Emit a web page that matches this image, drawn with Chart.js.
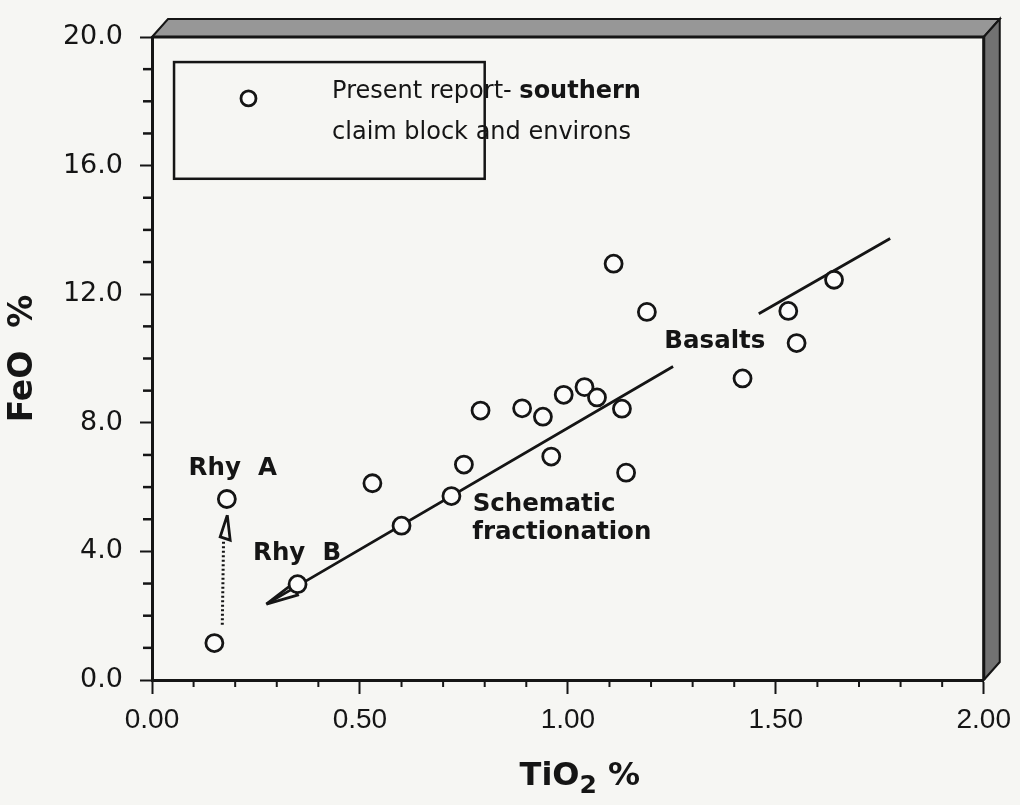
<!DOCTYPE html>
<html>
<head>
<meta charset="utf-8">
<title>FeO vs TiO2</title>
<script src="https://cdn.jsdelivr.net/npm/chart.js@4.4.1/dist/chart.umd.min.js"></script>
<style>
  html, body { margin: 0; padding: 0; background: #f6f6f3; }
  #wrap { width: 1020px; height: 805px; }
</style>
</head>
<body>
<div id="wrap"><canvas id="feoChart" width="1020" height="805"></canvas></div>
<script>
// Samples - present report, southern claim block and environs
const tio2 = [0.15, 0.18, 0.35, 0.53, 0.60, 0.72, 0.75, 0.79, 0.89, 0.94, 0.96,
              0.99, 1.04, 1.07, 1.13, 1.14, 1.11, 1.19, 1.42, 1.53, 1.55, 1.64];
const feo  = [1.15, 5.63, 2.98, 6.12, 4.80, 5.72, 6.70, 8.38, 8.45, 8.19, 6.95,
              8.87, 9.11, 8.79, 8.44, 6.45, 12.95, 11.45, 9.38, 11.48, 10.48, 12.45];

// Schematic fractionation line (broken round the "Basalts" label)
const trendX = [0.275, 1.253, 1.36, 1.459, 1.775];
const trendY = [2.36, 9.75, null, 11.39, 13.73];
const arrowX = [0.275, 0.338, 0.350, 0.275];
const arrowY = [2.36, 2.99, 2.64, 2.36];

// Rhy B -> Rhy A dotted path
const dotX = [0.169, 0.172];
const dotY = [1.72, 4.30];
const headX = [0.181, 0.164, 0.188, 0.181];
const headY = [5.13, 4.45, 4.35, 5.13];

// axis ticks
const xTicks = [0, 0.5, 1.0, 1.5, 2.0];
const yTicks = [0, 4, 8, 12, 16, 20];

// text labels placed in data units
const noteText = ['Rhy  A', 'Rhy  B', 'Schematic', 'fractionation', 'Basalts'];
const noteX    = [0.088, 0.243, 0.771, 0.770, 1.232];
const noteY    = [6.39, 3.72, 5.27, 4.40, 10.32];

const ink = '#151515';
const sans = "'DejaVu Sans', sans-serif";

function pts(xs, ys) {
  return xs.map((x, i) => ({ x: x, y: ys[i] }));
}

const frameFx = {
  id: 'frameFx',
  beforeDraw(chart) {
    const { ctx, width, height } = chart;
    ctx.save();
    ctx.fillStyle = '#f6f6f3';
    ctx.fillRect(0, 0, width, height);
    ctx.restore();
  },
  beforeDatasetsDraw(chart) {
    const { ctx, chartArea: a } = chart;
    const dx = 16, dy = -18;
    ctx.save();
    ctx.strokeStyle = ink;
    ctx.lineWidth = 2;
    // top band
    ctx.beginPath();
    ctx.moveTo(a.left, a.top);
    ctx.lineTo(a.left + dx, a.top + dy);
    ctx.lineTo(a.right + dx, a.top + dy);
    ctx.lineTo(a.right, a.top);
    ctx.closePath();
    ctx.fillStyle = '#979797';
    ctx.fill();
    ctx.stroke();
    // right band
    ctx.beginPath();
    ctx.moveTo(a.right, a.top);
    ctx.lineTo(a.right + dx, a.top + dy);
    ctx.lineTo(a.right + dx, a.bottom + dy);
    ctx.lineTo(a.right, a.bottom);
    ctx.closePath();
    ctx.fillStyle = '#727272';
    ctx.fill();
    ctx.stroke();
    // front top / right edges
    ctx.lineWidth = 3;
    ctx.beginPath();
    ctx.moveTo(a.left, a.top);
    ctx.lineTo(a.right, a.top);
    ctx.lineTo(a.right, a.bottom);
    ctx.stroke();
    ctx.restore();
  },
  afterDatasetsDraw(chart) {
    const { ctx, chartArea: a } = chart;
    const xs = chart.scales.x, ys = chart.scales.y;
    ctx.save();
    ctx.strokeStyle = ink;
    ctx.fillStyle = ink;

    // minor ticks
    ctx.lineWidth = 2;
    for (let i = 1; i < 20; i++) {
      if (i % 5 === 0) continue;
      const px = xs.getPixelForValue(i / 10);
      ctx.beginPath();
      ctx.moveTo(px, a.bottom);
      ctx.lineTo(px, a.bottom + 7);
      ctx.stroke();
    }
    ctx.lineWidth = 2.5;
    for (let i = 1; i < 20; i++) {
      if (i % 4 === 0) continue;
      const py = ys.getPixelForValue(i);
      ctx.beginPath();
      ctx.moveTo(a.left - 9, py);
      ctx.lineTo(a.left, py);
      ctx.stroke();
    }

    // legend box
    const bx0 = xs.getPixelForValue(0.053), by0 = ys.getPixelForValue(19.22);
    const bx1 = xs.getPixelForValue(0.800), by1 = ys.getPixelForValue(15.59);
    ctx.lineWidth = 2.5;
    ctx.strokeRect(bx0, by0, bx1 - bx0, by1 - by0);
    ctx.beginPath();
    ctx.fillStyle = '#fbfbfa';
    ctx.lineWidth = 2.8;
    ctx.arc(xs.getPixelForValue(0.232), ys.getPixelForValue(18.09), 7.5, 0, Math.PI * 2);
    ctx.fill();
    ctx.stroke();
    ctx.fillStyle = ink;
    ctx.textBaseline = 'alphabetic';
    ctx.textAlign = 'left';
    const tx = xs.getPixelForValue(0.433);
    ctx.font = '24px ' + sans;
    const lead = 'Present report- ';
    ctx.fillText(lead, tx, ys.getPixelForValue(18.09));
    const w = ctx.measureText(lead).width;
    ctx.font = 'bold 24px ' + sans;
    ctx.fillText('southern', tx + w, ys.getPixelForValue(18.09));
    ctx.font = '24px ' + sans;
    ctx.fillText('claim block and environs', tx, ys.getPixelForValue(16.84));

    // annotations
    ctx.font = 'bold 24.5px ' + sans;
    noteText.forEach((t, i) => {
      ctx.fillText(t, xs.getPixelForValue(noteX[i]), ys.getPixelForValue(noteY[i]));
    });

    // x axis title with subscript
    const cx = (a.left + a.right) / 2 + 12;
    const base = 785;
    ctx.font = 'bold 32px ' + sans;
    const w1 = ctx.measureText('TiO').width;
    const w3 = ctx.measureText(' %').width;
    ctx.font = 'bold 25px ' + sans;
    const w2 = ctx.measureText('2').width;
    let x0 = cx - (w1 + w2 + w3) / 2;
    ctx.font = 'bold 32px ' + sans;
    ctx.fillText('TiO', x0, base);
    ctx.font = 'bold 25px ' + sans;
    ctx.fillText('2', x0 + w1, base + 8);
    ctx.font = 'bold 32px ' + sans;
    ctx.fillText(' %', x0 + w1 + w2, base);
    ctx.restore();
  }
};

const ctx = document.getElementById('feoChart').getContext('2d');

const chart = new Chart(ctx, {
  type: 'scatter',
  data: {
    datasets: [
      {
        label: 'Present report- southern claim block and environs',
        data: pts(tio2, feo),
        pointStyle: 'circle',
        pointRadius: 8.5,
        pointHoverRadius: 8.5,
        pointBorderWidth: 2.8,
        pointBackgroundColor: '#fbfbfa',
        pointBorderColor: ink,
        order: 0
      },
      {
        label: 'Schematic fractionation',
        data: pts(trendX, trendY),
        showLine: true,
        spanGaps: false,
        borderColor: ink,
        borderWidth: 2.8,
        pointRadius: 0,
        order: 2
      },
      {
        label: 'arrow',
        data: pts(arrowX, arrowY),
        showLine: true,
        borderColor: ink,
        borderWidth: 2.8,
        pointRadius: 0,
        order: 1
      },
      {
        label: 'Rhy path',
        data: pts(dotX, dotY),
        showLine: true,
        borderColor: ink,
        borderWidth: 3,
        borderDash: [2, 2.5],
        pointRadius: 0,
        order: 2
      },
      {
        label: 'Rhy head',
        data: pts(headX, headY),
        showLine: true,
        borderColor: ink,
        borderWidth: 2.8,
        pointRadius: 0,
        order: 2
      }
    ]
  },
  options: {
    responsive: false,
    animation: false,
    devicePixelRatio: 1,
    layout: { padding: { top: 37, right: 36, left: 0, bottom: 0 } },
    plugins: {
      legend: { display: false },
      tooltip: { enabled: false }
    },
    scales: {
      x: {
        type: 'linear',
        min: 0,
        max: 2,
        afterFit: (s) => { s.height = 125; },
        afterBuildTicks: (s) => { s.ticks = xTicks.map(v => ({ value: v })); },
        ticks: {
          callback: (v) => Number(v).toFixed(2),
          font: { family: "'Liberation Sans', Arial, sans-serif", size: 28 },
          color: ink,
          padding: 9,
          maxRotation: 0,
          autoSkip: false
        },
        grid: { drawOnChartArea: false, tickLength: 14, tickWidth: 2, tickColor: ink },
        border: { display: true, color: ink, width: 3 }
      },
      y: {
        type: 'linear',
        min: 0,
        max: 20,
        afterFit: (s) => { s.width = 152; },
        afterBuildTicks: (s) => { s.ticks = yTicks.map(v => ({ value: v })); },
        ticks: {
          callback: (v) => Number(v).toFixed(1),
          font: { family: sans, size: 27 },
          color: ink,
          padding: 17,
          autoSkip: false
        },
        grid: { drawOnChartArea: false, tickLength: 12, tickWidth: 2, tickColor: ink },
        border: { display: true, color: ink, width: 3 },
        title: {
          display: true,
          text: 'FeO  %',
          color: ink,
          font: { family: sans, size: 33, weight: 'bold' },
          padding: { top: 4, bottom: 0 }
        }
      }
    }
  },
  plugins: [frameFx]
});
</script>
</body>
</html>
